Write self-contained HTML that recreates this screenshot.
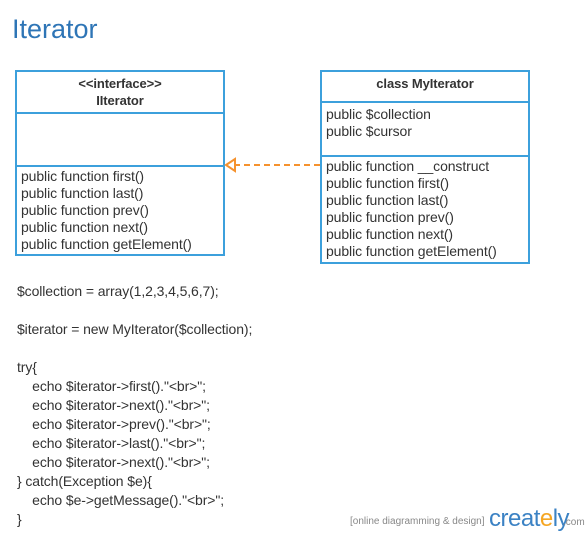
<!DOCTYPE html>
<html><head><style>
body{margin:0;width:588px;height:537px;background:#fff;position:relative;font-family:"Liberation Sans",sans-serif;color:#333;overflow:hidden}
.t{position:absolute;font-size:14px;white-space:pre;line-height:17px;letter-spacing:-0.1px}
.box{position:absolute;border:2px solid #3ca0dc;box-sizing:border-box}
.hl{position:absolute;left:0;right:0;height:2px;background:#3ca0dc}
</style></head><body>
<div style="position:absolute;left:12px;top:14px;font-size:27px;color:#2e75b6">Iterator</div>

<div class="box" style="left:15px;top:70px;width:210px;height:186px">
 <div class="hl" style="top:40px"></div>
 <div class="hl" style="top:93px"></div>
</div>
<div class="t" style="left:15px;width:210px;text-align:center;top:75px;font-weight:bold;font-size:13px">&lt;&lt;interface&gt;&gt;
IIterator</div>
<div class="t" style="left:21px;top:168px">public function first()
public function last()
public function prev()
public function next()
public function getElement()</div>

<div class="box" style="left:320px;top:70px;width:210px;height:194px">
 <div class="hl" style="top:29px"></div>
 <div class="hl" style="top:83px"></div>
</div>
<div class="t" style="left:320px;width:210px;text-align:center;top:75px;font-weight:bold;font-size:13px">class MyIterator</div>
<div class="t" style="left:326px;top:106px">public $collection
public $cursor</div>
<div class="t" style="left:326px;top:158px">public function __construct
public function first()
public function last()
public function prev()
public function next()
public function getElement()</div>

<svg style="position:absolute;left:0;top:0" width="588" height="537">
<line x1="320" y1="165" x2="234" y2="165" stroke="#f5922e" stroke-width="2" stroke-dasharray="6,4"/>
<polygon points="226,165 235,159 235,171" fill="#fff" stroke="#f5922e" stroke-width="2"/>
</svg>

<div class="t" style="left:17px;top:282px;line-height:19px">$collection = array(1,2,3,4,5,6,7);

$iterator = new MyIterator($collection);

try{
    echo $iterator-&gt;first()."&lt;br&gt;";
    echo $iterator-&gt;next()."&lt;br&gt;";
    echo $iterator-&gt;prev()."&lt;br&gt;";
    echo $iterator-&gt;last()."&lt;br&gt;";
    echo $iterator-&gt;next()."&lt;br&gt;";
} catch(Exception $e){
    echo $e-&gt;getMessage()."&lt;br&gt;";
}</div>

<div style="position:absolute;left:350px;top:516px;font-size:10px;color:#888">[online diagramming &amp; design]</div>
<div style="position:absolute;left:489px;top:505px;font-size:24px;color:#3b82c4;letter-spacing:-0.5px">creat<span style="color:#f5a623">e</span>ly</div>
<div style="position:absolute;left:563px;top:517px;font-size:10px;color:#888">.com</div>
</body></html>
